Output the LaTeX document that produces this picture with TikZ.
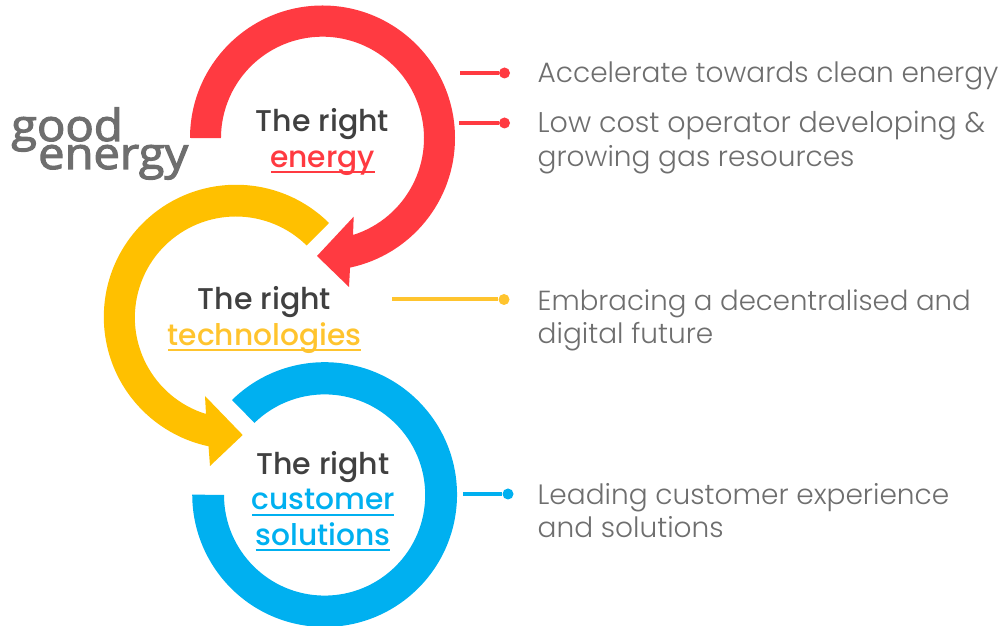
\documentclass[tikz,border=0pt]{standalone}
\usepackage{fontspec}
\setmainfont{Poppins}
\newfontfamily\logofont{Open Sans}[FakeBold=2.6,FakeStretch=1.07]
\newfontfamily\headfont{Poppins Medium}
\newfontfamily\bodyfont{Poppins Light}
\definecolor{redc}{HTML}{FF3A41}
\definecolor{yelc}{HTML}{FFC000}
\definecolor{yeltext}{HTML}{FFC42E}
\definecolor{bluec}{HTML}{00B0F0}
\definecolor{darkc}{HTML}{404040}
\definecolor{greyc}{HTML}{6E6E6E}
\definecolor{logoc}{HTML}{6E6E6E}
\tikzset{
 x=1pt,y=1pt,
 head/.style={font=\headfont\fontsize{30}{30}\selectfont,text=darkc,inner sep=0pt,anchor=base},
 word/.style={font=\headfont\fontsize{29.7}{30}\selectfont,inner sep=0pt,anchor=base},
 body/.style={font=\bodyfont\fontsize{#1}{30}\selectfont,text=greyc,inner sep=0pt,anchor=base west},
 body/.default=28,
 tick/.style={line width=4pt},
 dot/.style={circle,inner sep=0pt,minimum size=11pt},
 logo/.style={font=\logofont\fontsize{44}{44}\selectfont,text=logoc,inner sep=0pt,anchor=base west},
}
\begin{document}
\begin{tikzpicture}
\useasboundingbox (0,0) rectangle (999,626);
% arcs
\fill[redc] (190,488) arc[start angle=180,end angle=-78,radius=132.5] -- (349,339) -- (317,370) -- (353.7,409.3) -- (353,391) arc[start angle=-72.5,end angle=180,radius=101.5] -- cycle;
\fill[yelc] (329,403) arc[start angle=45.3,end angle=258,radius=132.2] -- (210,160) -- (242.7,191) -- (205,230) -- (206,212) arc[start angle=252.8,end angle=45.5,radius=101] -- cycle;
\fill[bluec] (232,226) arc[start angle=134.4,end angle=-180,radius=132.4] -- (224,131) arc[start angle=-180,end angle=134.2,radius=100.6] -- cycle;
% logo
\node[logo] (good) at (11,485) {good};
\node[logo] (en) at (38,457) {energy};
% heads
\node[head] (h1) at (322.5,494) {The right};
\node[word,text=redc] (w1) at (322.5,458.5) {energy};
\node[head] (h2) at (264.5,316) {The right};
\node[word,text=yeltext] (w2) at (264.5,280.5) {technologies};
\node[head] (h3) at (323,151) {The right};
\node[word,text=bluec] (w3a) at (323,116) {customer};
\node[word,text=bluec] (w3b) at (323,80) {solutions};
\foreach \n/\c/\y/\a/\b in {1/redc/454/271/375,2/yeltext/276/168/361,3/bluec/111/252/394,4/bluec/76/255.5/390}{
  \coordinate (ua\n) at (\a,\y); \coordinate (ub\n) at (\b,\y);
  \draw[\c,line width=1.3pt] (ua\n) -- (ub\n);
}
% ticks
\coordinate (t1) at (460,553); \node[dot,fill=redc] (d1) at (504.5,553) {};
\draw[tick,redc] (t1) -- (d1);
\coordinate (t2) at (459,503); \node[dot,fill=redc] (d2) at (504.5,503) {};
\draw[tick,redc] (t2) -- (d2);
\coordinate (t3) at (392,326.5); \node[dot,fill=yeltext] (d3) at (504,326.5) {};
\draw[tick,yeltext] (t3) -- (d3);
\coordinate (t4) at (463,132); \node[dot,fill=bluec] (d4) at (508,132) {};
\draw[tick,bluec] (t4) -- (d4);
% body
\node[body] (b1) at (537.5,543) {Accelerate towards clean energy};
\node[body=28.5] (b2a) at (537.5,493.5) {Low cost operator developing \&};
\node[body] (b2b) at (537.5,459.5) {growing gas resources};
\node[body=27.6] (b3a) at (537.5,315.5) {Embracing a decentralised and};
\node[body] (b3b) at (537.5,282.5) {digital future};
\node[body] (b4a) at (537.5,121.5) {Leading customer experience};
\node[body] (b4b) at (537.5,88.5) {and solutions};
\end{tikzpicture}
\end{document}
